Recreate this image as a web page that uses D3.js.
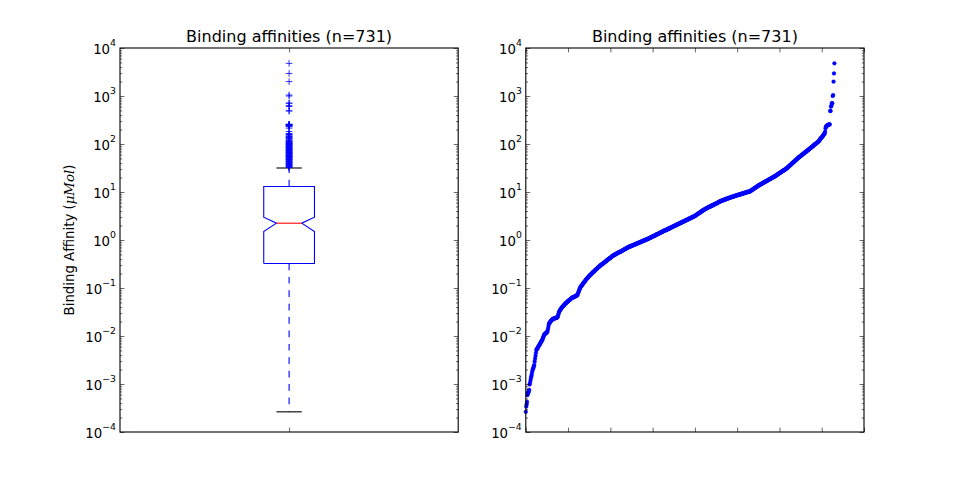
<!DOCTYPE html>
<html>
<head>
<meta charset="utf-8">
<script src="https://cdn.jsdelivr.net/npm/d3@7"></script>
<style>
  body { margin: 0; background: #fff; }
  text { font-family: "DejaVu Sans", sans-serif; }
</style>
</head>
<body>
<svg id="chart" width="960" height="480"></svg>
<script>
// log10 of the binding affinities (uM), sorted ascending, n = 731
var logAffinity = [
  -3.58,-3.47,-3.42,-3.37,-3.23,-3.20,-3.17,-3.15,-3.12,-3.01,
  -2.98,-2.93,-2.88,-2.84,-2.80,-2.75,-2.71,-2.68,-2.66,-2.63,
  -2.60,-2.53,-2.47,-2.41,-2.35,-2.29,-2.28,-2.26,-2.25,-2.23,
  -2.22,-2.20,-2.19,-2.17,-2.16,-2.14,-2.12,-2.11,-2.10,-2.08,
  -2.06,-2.03,-2.01,-1.98,-1.97,-1.96,-1.95,-1.94,-1.94,-1.93,
  -1.92,-1.91,-1.87,-1.83,-1.78,-1.74,-1.73,-1.72,-1.70,-1.69,
  -1.68,-1.67,-1.66,-1.65,-1.65,-1.64,-1.64,-1.64,-1.63,-1.63,
  -1.63,-1.62,-1.62,-1.62,-1.61,-1.61,-1.58,-1.55,-1.52,-1.49,
  -1.48,-1.46,-1.45,-1.44,-1.42,-1.41,-1.40,-1.39,-1.38,-1.37,
  -1.36,-1.35,-1.34,-1.33,-1.32,-1.31,-1.31,-1.30,-1.29,-1.28,
  -1.27,-1.27,-1.26,-1.25,-1.24,-1.24,-1.23,-1.22,-1.21,-1.21,
  -1.20,-1.20,-1.19,-1.19,-1.19,-1.18,-1.18,-1.17,-1.17,-1.16,
  -1.16,-1.15,-1.15,-1.12,-1.10,-1.08,-1.05,-1.03,-1.01,-0.99,
  -0.97,-0.96,-0.95,-0.94,-0.93,-0.91,-0.90,-0.89,-0.88,-0.87,
  -0.86,-0.84,-0.83,-0.82,-0.81,-0.80,-0.79,-0.78,-0.77,-0.76,
  -0.75,-0.74,-0.73,-0.72,-0.72,-0.71,-0.70,-0.69,-0.68,-0.67,
  -0.66,-0.66,-0.65,-0.64,-0.63,-0.62,-0.61,-0.61,-0.60,-0.59,
  -0.58,-0.57,-0.56,-0.56,-0.55,-0.54,-0.53,-0.53,-0.52,-0.51,
  -0.51,-0.50,-0.49,-0.49,-0.48,-0.47,-0.47,-0.46,-0.45,-0.45,
  -0.44,-0.43,-0.42,-0.42,-0.41,-0.40,-0.40,-0.39,-0.38,-0.38,
  -0.37,-0.36,-0.36,-0.35,-0.34,-0.33,-0.33,-0.32,-0.32,-0.31,
  -0.31,-0.30,-0.30,-0.29,-0.29,-0.28,-0.28,-0.27,-0.27,-0.26,
  -0.26,-0.25,-0.25,-0.25,-0.24,-0.24,-0.23,-0.23,-0.22,-0.22,
  -0.21,-0.21,-0.20,-0.20,-0.19,-0.19,-0.18,-0.18,-0.17,-0.17,
  -0.16,-0.16,-0.15,-0.15,-0.14,-0.14,-0.14,-0.13,-0.13,-0.13,
  -0.12,-0.12,-0.11,-0.11,-0.11,-0.10,-0.10,-0.10,-0.09,-0.09,
  -0.08,-0.08,-0.08,-0.07,-0.07,-0.07,-0.06,-0.06,-0.05,-0.05,
  -0.05,-0.04,-0.04,-0.04,-0.03,-0.03,-0.02,-0.02,-0.02,-0.01,
  -0.01,-0.01,0.00,0.00,0.01,0.01,0.01,0.02,0.02,0.02,
  0.03,0.03,0.04,0.04,0.05,0.05,0.05,0.06,0.06,0.07,
  0.07,0.08,0.08,0.08,0.09,0.09,0.10,0.10,0.11,0.11,
  0.12,0.12,0.12,0.13,0.13,0.14,0.14,0.15,0.15,0.16,
  0.16,0.16,0.17,0.17,0.18,0.18,0.19,0.19,0.20,0.20,
  0.20,0.21,0.21,0.21,0.22,0.22,0.23,0.23,0.24,0.24,
  0.24,0.25,0.25,0.26,0.26,0.27,0.27,0.27,0.28,0.28,
  0.29,0.29,0.30,0.30,0.30,0.31,0.31,0.32,0.32,0.33,
  0.33,0.33,0.34,0.34,0.35,0.35,0.36,0.36,0.36,0.37,
  0.37,0.38,0.38,0.39,0.39,0.39,0.40,0.40,0.41,0.41,
  0.42,0.42,0.42,0.43,0.43,0.44,0.44,0.45,0.45,0.45,
  0.46,0.46,0.47,0.47,0.48,0.48,0.48,0.49,0.49,0.50,
  0.50,0.51,0.51,0.52,0.53,0.53,0.54,0.54,0.55,0.56,
  0.56,0.57,0.57,0.58,0.59,0.59,0.60,0.60,0.61,0.62,
  0.62,0.63,0.63,0.64,0.64,0.65,0.65,0.66,0.66,0.67,
  0.67,0.68,0.68,0.69,0.69,0.69,0.70,0.70,0.71,0.71,
  0.72,0.72,0.72,0.73,0.73,0.74,0.74,0.75,0.75,0.75,
  0.76,0.76,0.77,0.77,0.78,0.78,0.79,0.79,0.80,0.80,
  0.81,0.81,0.81,0.82,0.82,0.82,0.83,0.83,0.83,0.84,
  0.84,0.84,0.85,0.85,0.85,0.86,0.86,0.86,0.87,0.87,
  0.87,0.88,0.88,0.88,0.89,0.89,0.89,0.90,0.90,0.90,
  0.90,0.91,0.91,0.91,0.92,0.92,0.92,0.92,0.93,0.93,
  0.93,0.94,0.94,0.94,0.94,0.95,0.95,0.95,0.95,0.96,
  0.96,0.96,0.97,0.97,0.97,0.97,0.98,0.98,0.98,0.98,
  0.99,0.99,0.99,1.00,1.00,1.00,1.00,1.01,1.01,1.01,
  1.01,1.02,1.02,1.03,1.04,1.04,1.05,1.05,1.06,1.07,
  1.07,1.08,1.08,1.09,1.10,1.10,1.11,1.11,1.12,1.13,
  1.13,1.14,1.14,1.15,1.15,1.16,1.16,1.17,1.17,1.18,
  1.18,1.19,1.19,1.20,1.20,1.21,1.21,1.22,1.22,1.23,
  1.23,1.24,1.24,1.25,1.25,1.26,1.26,1.27,1.27,1.28,
  1.28,1.29,1.29,1.30,1.30,1.31,1.31,1.32,1.32,1.33,
  1.33,1.34,1.34,1.35,1.36,1.36,1.37,1.37,1.38,1.39,
  1.39,1.40,1.40,1.41,1.42,1.42,1.43,1.43,1.44,1.45,
  1.45,1.46,1.46,1.47,1.47,1.48,1.49,1.49,1.50,1.51,
  1.52,1.52,1.53,1.54,1.55,1.56,1.56,1.57,1.58,1.59,
  1.60,1.60,1.61,1.62,1.63,1.64,1.64,1.65,1.66,1.67,
  1.68,1.68,1.69,1.70,1.71,1.72,1.72,1.73,1.74,1.74,
  1.75,1.76,1.76,1.77,1.78,1.79,1.79,1.80,1.81,1.81,
  1.82,1.83,1.83,1.84,1.85,1.86,1.86,1.87,1.88,1.88,
  1.89,1.90,1.91,1.91,1.92,1.93,1.93,1.94,1.95,1.96,
  1.96,1.97,1.98,1.99,1.99,2.00,2.01,2.01,2.02,2.03,
  2.04,2.04,2.05,2.06,2.07,2.08,2.10,2.11,2.12,2.13,
  2.14,2.15,2.16,2.17,2.19,2.20,2.21,2.22,2.26,2.33,
  2.36,2.37,2.38,2.39,2.39,2.40,2.40,2.40,2.41,2.41,
  2.69,2.69,2.78,2.80,2.85,2.85,3.00,3.02,3.30,3.47,3.68
];

var titles = ['Binding affinities (n=731)', 'Binding affinities (n=731)'];
var yLabel = 'Binding Affinity (';
var yLabelMath = '\u03bcMol';
var yDecades = [-4, -3, -2, -1, 0, 1, 2, 3, 4];
var minorSteps = [2, 3, 4, 5, 6, 7, 8, 9];
var boxPositions = [1];
var scatterTicks = [0, 100, 200, 300, 400, 500, 600, 700, 800];

var affinities = logAffinity.map(function(v) { return Math.pow(10, v); });

var svg = d3.select('#chart');
svg.append('rect').attr('width', 960).attr('height', 480).attr('fill', '#fff');

var top_ = 48, bottom_ = 432;
var panels = [
  { x0: 120, x1: 458.2 },
  { x0: 525.8, x1: 864 }
];

var y = d3.scaleLog().domain([1e-4, 1e4]).range([bottom_, top_]);

var majors = yDecades.map(function(e) { return Math.pow(10, e); });
var minors = [];
yDecades.slice(0, -1).forEach(function(e) {
  minorSteps.forEach(function(k) { minors.push(k * Math.pow(10, e)); });
});

var MAJOR = 4.4, MINOR = 2.2;

function cleanAxis(sel) {
  sel.select('.domain').remove();
  sel.selectAll('.tick line').attr('stroke', '#000').attr('stroke-width', 0.6);
  sel.attr('font-family', null).attr('font-size', null);
}

function drawFrame(p, x, xTicks) {
  var g = svg.append('g');

  // y ticks, both sides, major with labels on the left
  var yl = g.append('g').attr('transform', 'translate(' + p.x0 + ',0)')
    .call(d3.axisLeft(y).tickValues(majors).tickSize(-MAJOR).tickPadding(4).tickFormat(''));
  cleanAxis(yl);
  yl.selectAll('.tick text').each(function(d) {
    var t = d3.select(this);
    var e = Math.round(Math.log10(d));
    t.attr('dy', null).attr('y', 5).attr('fill', '#000').attr('font-size', '13.3px');
    t.append('tspan').text('10');
    t.append('tspan').attr('dy', -7.5).attr('font-size', '9.3px')
      .text(e < 0 ? '\u2212' + (-e) : String(e));
  });
  cleanAxis(g.append('g').attr('transform', 'translate(' + p.x0 + ',0)')
    .call(d3.axisLeft(y).tickValues(minors).tickSize(-MINOR).tickFormat('')));
  cleanAxis(g.append('g').attr('transform', 'translate(' + p.x1 + ',0)')
    .call(d3.axisRight(y).tickValues(majors).tickSize(-MAJOR).tickFormat('')));
  cleanAxis(g.append('g').attr('transform', 'translate(' + p.x1 + ',0)')
    .call(d3.axisRight(y).tickValues(minors).tickSize(-MINOR).tickFormat('')));

  // x ticks, top and bottom, no labels
  cleanAxis(g.append('g').attr('transform', 'translate(0,' + bottom_ + ')')
    .call(d3.axisBottom(x).tickValues(xTicks).tickSize(-MAJOR).tickFormat('')));
  cleanAxis(g.append('g').attr('transform', 'translate(0,' + top_ + ')')
    .call(d3.axisTop(x).tickValues(xTicks).tickSize(-MAJOR).tickFormat('')));

  g.append('rect')
    .attr('x', p.x0).attr('y', top_)
    .attr('width', p.x1 - p.x0).attr('height', bottom_ - top_)
    .attr('fill', 'none').attr('stroke', '#000').attr('stroke-width', 1.1);
}

function drawTitle(p, txt) {
  svg.append('text')
    .attr('x', (p.x0 + p.x1) / 2).attr('y', 42)
    .attr('text-anchor', 'middle').attr('font-size', '16px').attr('fill', '#000')
    .text(txt);
}

// ---- left: notched box plot ----
var xBox = d3.scaleLinear().domain([0.5, 1.5]).range([panels[0].x0, panels[0].x1]);
var sorted = affinities.slice().sort(d3.ascending);
var n = sorted.length;
var q1 = d3.quantileSorted(sorted, 0.25);
var med = d3.quantileSorted(sorted, 0.5);
var q3 = d3.quantileSorted(sorted, 0.75);
var iqr = q3 - q1;
var notchLo = med - 1.57 * iqr / Math.sqrt(n);
var notchHi = med + 1.57 * iqr / Math.sqrt(n);
var hiLimit = q3 + 1.5 * iqr, loLimit = q1 - 1.5 * iqr;
var whiskHi = d3.max(sorted.filter(function(v) { return v <= hiLimit; }));
var whiskLo = d3.min(sorted.filter(function(v) { return v >= loLimit; }));
var fliers = sorted.filter(function(v) { return v > whiskHi || v < whiskLo; });

var boxW = 0.15;
var gBox = svg.append('g');
boxPositions.forEach(function(pos) {
  var L = xBox(pos - boxW / 2), R = xBox(pos + boxW / 2);
  var cl = xBox(pos - boxW / 4), cr = xBox(pos + boxW / 4), cx = xBox(pos);
  var pts = [[L, q1], [R, q1], [R, notchLo], [cr, med], [R, notchHi], [R, q3],
             [L, q3], [L, notchHi], [cl, med], [L, notchLo], [L, q1]];
  gBox.append('path')
    .attr('d', d3.line().x(function(d) { return d[0]; }).y(function(d) { return y(d[1]); })(pts))
    .attr('fill', 'none').attr('stroke', '#0000ff').attr('stroke-width', 1.1);
  gBox.append('line').attr('x1', cl).attr('x2', cr).attr('y1', y(med)).attr('y2', y(med))
    .attr('stroke', '#ff0000').attr('stroke-width', 1.1);
  [[q1, whiskLo], [q3, whiskHi]].forEach(function(w) {
    gBox.append('line').attr('x1', cx).attr('x2', cx).attr('y1', y(w[0])).attr('y2', y(w[1]))
      .attr('stroke', '#0000ff').attr('stroke-width', 1.1).attr('stroke-dasharray', '6.7,6.7');
    gBox.append('line').attr('x1', cl).attr('x2', cr).attr('y1', y(w[1])).attr('y2', y(w[1]))
      .attr('stroke', '#000').attr('stroke-width', 1.1);
  });
  gBox.selectAll('path.flier').data(fliers).enter().append('path')
    .attr('class', 'flier')
    .attr('transform', function(d) { return 'translate(' + cx + ',' + y(d) + ')'; })
    .attr('d', 'M-3.3,0H3.3M0,-3.3V3.3')
    .attr('stroke', '#0000ff').attr('stroke-width', 0.8).attr('fill', 'none');
});
drawFrame(panels[0], xBox, boxPositions);
drawTitle(panels[0], titles[0]);

svg.append('text')
  .attr('transform', 'translate(74,240) rotate(-90)')
  .attr('text-anchor', 'middle').attr('font-size', '13.3px').attr('fill', '#000')
  .call(function(t) {
    t.append('tspan').text(yLabel);
    t.append('tspan').attr('font-family', '"DejaVu Serif", serif').attr('font-style', 'italic').text(yLabelMath);
    t.append('tspan').text(')');
  });

// ---- right: sorted values ----
var xSc = d3.scaleLinear().domain([0, 800]).range([panels[1].x0, panels[1].x1]);
svg.append('g').selectAll('path').data(affinities).enter().append('path')
  .attr('transform', function(d, i) { return 'translate(' + xSc(i) + ',' + y(d) + ')'; })
  .attr('d', d3.symbol().type(d3.symbolCircle).size(11))
  .attr('fill', '#0000ff').attr('stroke', '#0000ff').attr('stroke-width', 0.4);
drawFrame(panels[1], xSc, scatterTicks);
drawTitle(panels[1], titles[1]);
</script>
</body>
</html>
